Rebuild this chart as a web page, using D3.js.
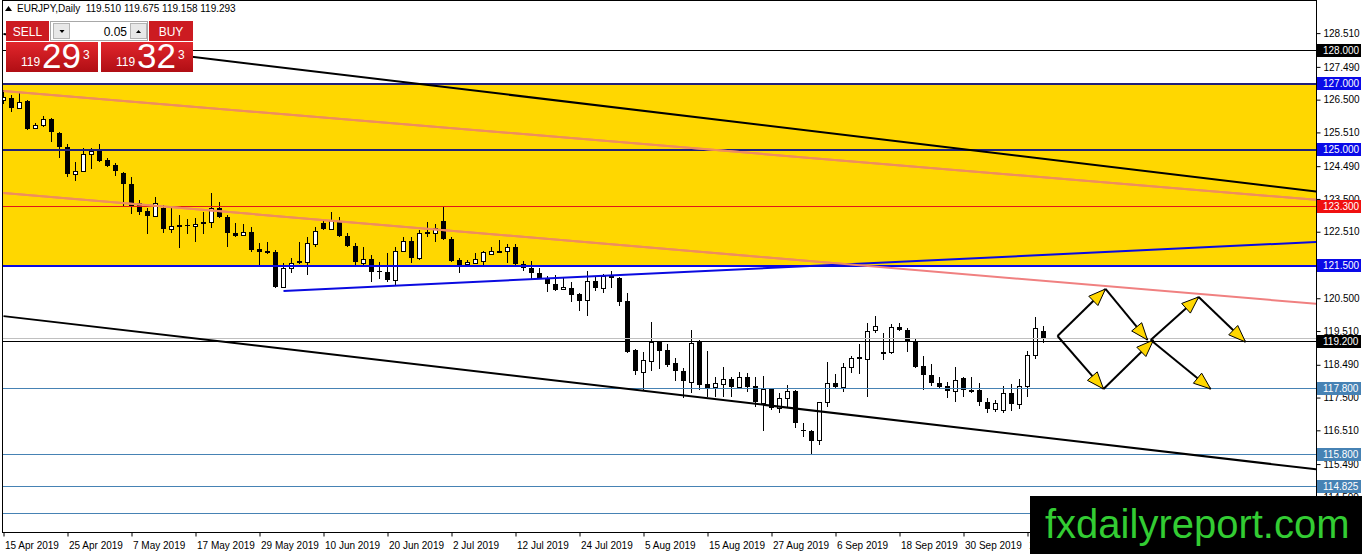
<!DOCTYPE html>
<html>
<head>
<meta charset="utf-8">
<title>EURJPY Daily</title>
<script src="https://cdnjs.cloudflare.com/ajax/libs/d3/7.8.5/d3.min.js"></script>
<style>
    body { margin: 0; background: #fff; overflow: hidden; }
    text { font-family: "Liberation Sans", Arial, sans-serif; }
    .axis text { font-size: 10px; fill: #000; }
    .axis line { stroke: #000; }
    .axis path { display: none; }
</style>
</head>
<body>
<div id="chart"></div>
<script>

// daily candles, 15 Apr 2019 .. 14 Oct 2019
var opens = [
    126.49, 126.55, 126.25, 126.46, 125.64, 125.74, 125.92, 125.49, 125.07, 124.25,
    124.35, 124.86, 125.01, 124.68, 124.53, 124.28, 123.95, 123.38, 123.14, 122.99,
    123.23, 122.59, 122.68, 122.70, 122.68, 122.76, 122.80, 123.23, 122.96, 122.47,
    122.41, 122.50, 121.99, 121.93, 121.90, 120.84, 121.41, 121.63, 121.60, 122.14,
    122.78, 122.59, 122.80, 122.38, 122.08, 121.57, 121.69, 121.33, 121.30, 121.05,
    121.93, 122.23, 121.72, 122.47, 122.47, 122.83, 122.29, 121.66, 121.54, 121.57,
    121.63, 121.84, 121.92, 121.93, 122.05, 121.54, 121.41, 121.27, 121.11, 120.93,
    120.78, 120.81, 120.63, 120.45, 121.02, 120.81, 121.17, 121.11, 120.42, 118.94,
    118.27, 118.61, 119.18, 118.94, 118.54, 118.30, 117.97, 119.18, 117.91, 117.82,
    117.91, 118.06, 117.82, 118.12, 117.85, 117.34, 117.76, 117.19, 117.49, 117.70,
    116.52, 116.49, 116.22, 117.37, 117.94, 117.82, 118.42, 118.69, 118.67, 119.54,
    118.86, 118.88, 119.63, 119.54, 119.18, 118.45, 118.18, 117.94, 117.85, 117.70,
    118.09, 117.73, 117.73, 117.37, 117.16, 117.13, 117.64, 117.31, 117.85, 118.79,
    119.510
];
var highs = [
    126.79, 126.64, 126.70, 126.49, 125.80, 126.01, 125.95, 125.52, 125.16, 124.62,
    125.04, 125.04, 125.16, 124.74, 124.59, 124.30, 124.16, 123.47, 123.23, 123.56,
    123.32, 123.23, 123.02, 122.90, 122.93, 123.11, 123.68, 123.41, 123.02, 122.78,
    122.75, 122.65, 122.17, 122.20, 121.96, 121.57, 121.72, 122.20, 122.35, 122.65,
    122.84, 123.11, 122.96, 122.47, 122.17, 122.05, 121.81, 121.60, 121.87, 122.05,
    122.35, 122.35, 122.56, 122.80, 122.75, 123.26, 122.35, 121.72, 121.66, 121.87,
    121.93, 122.05, 122.26, 122.14, 122.14, 121.63, 121.63, 121.41, 121.17, 121.20,
    121.11, 120.99, 120.66, 121.33, 121.14, 121.23, 121.33, 121.14, 120.66, 118.97,
    118.88, 119.78, 119.21, 119.12, 118.70, 118.39, 119.54, 119.24, 118.91, 118.12,
    118.42, 118.12, 118.27, 118.24, 118.12, 118.15, 117.78, 117.64, 117.88, 117.73,
    116.73, 116.52, 117.37, 118.58, 118.21, 118.54, 118.76, 119.12, 119.75, 119.96,
    119.45, 119.72, 119.75, 119.60, 119.27, 118.76, 118.51, 118.12, 117.97, 118.42,
    118.12, 118.12, 117.94, 117.49, 117.43, 117.85, 117.91, 118.06, 118.91, 119.93,
    119.675
];
var lows = [
    126.37, 126.13, 126.22, 125.58, 125.61, 125.67, 125.22, 124.74, 124.16, 124.04,
    124.30, 124.41, 124.62, 124.47, 124.19, 123.29, 123.05, 123.02, 122.44, 122.96,
    122.47, 122.47, 122.02, 122.44, 122.20, 122.44, 122.62, 122.93, 122.05, 122.35,
    122.38, 121.90, 121.51, 121.84, 120.81, 120.81, 121.27, 121.54, 121.20, 122.05,
    122.56, 122.56, 122.35, 122.05, 121.51, 121.51, 120.99, 121.08, 120.99, 120.90,
    121.90, 121.57, 121.66, 122.35, 122.20, 122.26, 121.60, 121.27, 121.51, 121.54,
    121.51, 121.81, 121.87, 121.57, 121.51, 121.33, 121.08, 121.08, 120.69, 120.72,
    120.75, 120.40, 120.12, 119.96, 120.72, 120.66, 120.81, 120.28, 118.85, 118.18,
    117.73, 118.30, 118.36, 118.42, 118.00, 117.49, 117.64, 117.73, 117.52, 117.52,
    117.52, 117.52, 117.82, 117.67, 117.22, 116.49, 117.12, 117.03, 117.22, 116.58,
    116.31, 115.80, 116.07, 117.22, 117.76, 117.67, 118.24, 118.21, 117.52, 119.45,
    118.64, 118.82, 119.51, 118.88, 118.39, 117.73, 117.85, 117.79, 117.49, 117.37,
    117.52, 117.64, 117.25, 117.03, 117.06, 117.03, 117.09, 117.16, 117.52, 118.67,
    119.158
];
var closes = [
    126.58, 126.25, 126.43, 125.61, 125.74, 125.92, 125.52, 125.07, 124.25, 124.35,
    124.86, 124.95, 124.65, 124.50, 124.35, 123.95, 123.29, 123.11, 122.99, 123.38,
    122.59, 122.68, 122.70, 122.68, 122.75, 122.80, 123.23, 122.96, 122.47, 122.38,
    122.50, 121.96, 121.90, 121.87, 120.84, 121.41, 121.57, 121.57, 122.17, 122.53,
    122.59, 122.87, 122.38, 122.08, 121.60, 121.69, 121.30, 121.30, 121.05, 121.93,
    122.23, 121.72, 122.47, 122.50, 122.62, 122.29, 121.63, 121.51, 121.60, 121.69,
    121.90, 121.93, 121.94, 122.05, 121.54, 121.41, 121.27, 121.11, 120.93, 120.75,
    120.84, 120.60, 120.42, 121.02, 120.81, 121.17, 121.11, 120.40, 118.88, 118.30,
    118.64, 119.18, 118.91, 118.48, 118.30, 118.00, 119.15, 117.88, 117.79, 117.94,
    118.06, 117.82, 118.12, 117.82, 117.37, 117.76, 117.19, 117.49, 117.70, 116.73,
    116.49, 116.19, 117.37, 117.94, 117.82, 118.42, 118.70, 118.72, 119.51, 119.66,
    118.88, 119.63, 119.54, 119.18, 118.42, 118.18, 117.94, 117.82, 117.70, 118.03,
    117.73, 117.74, 117.37, 117.16, 117.34, 117.64, 117.31, 117.85, 118.79, 119.60,
    119.293
];

// time axis labels (every 8th bar)
var dateBars = [0, 8, 16, 24, 32, 40, 48, 56, 64, 72, 80, 88, 96, 104, 112, 120, 128];
var dateLabels = ["15 Apr 2019", "25 Apr 2019", "7 May 2019", "17 May 2019", "29 May 2019",
    "10 Jun 2019", "20 Jun 2019", "2 Jul 2019", "12 Jul 2019", "24 Jul 2019", "5 Aug 2019",
    "15 Aug 2019", "27 Aug 2019", "6 Sep 2019", "18 Sep 2019", "30 Sep 2019", "10 Oct 2019"];

// price scale ticks
var priceTicks = [128.510, 127.490, 126.500, 125.510, 124.490, 123.500, 122.510, 121.500,
    120.500, 119.510, 118.490, 117.500, 116.510, 115.490, 114.500];

// horizontal levels
var levelPrices = [128.000, 127.000, 125.000, 123.300, 121.500, 119.200, 117.800, 115.800, 114.825, 114.000];
var levelKinds  = ["black", "navy", "navy", "red", "blue", "black", "steel", "steel", "steel", "steel"];

// shaded zone
var zonePrices = [127.000, 121.500];

// trend lines [bar, price] -> [bar, price]
var trendKinds = ["black", "pink", "pink", "blue", "black"];
var trendFrom  = [[0, 128.48], [0, 126.76], [0, 123.68], [35, 120.72], [0, 119.96]];
var trendTo    = [[164.2, 123.72], [164.2, 123.47], [164.2, 120.33], [164.2, 122.20], [164.2, 115.33]];

// projected path arrows [bar, price] -> [bar, price]
var arrowFrom = [[131.75, 119.36], [131.75, 119.36], [137.75, 120.78], [137.5, 117.76],
    [143.4, 119.24], [143.4, 119.24], [149.4, 120.54]];
var arrowTo   = [[137.75, 120.78], [137.5, 117.76], [143.0, 119.24], [143.75, 119.24],
    [149.4, 120.54], [150.9, 117.76], [155.25, 119.18]];

var bidPrice = 119.293;
var symbolTitle = "EURJPY,Daily";
var lastQuote = [119.510, 119.675, 119.158, 119.293];
var lotSize = "0.05";
var sellQuote = ["119", "29", "3"];
var buyQuote = ["119", "32", "3"];
var watermark = "fxdailyreport.com";


var colors = {
    black: "#000000", navy: "#20207a", red: "#e01818", blue: "#0a0ae0",
    steel: "#4682b4", pink: "#f08080", zone: "#ffd700", bid: "#c0c0c0"
};
var boxColors = {
    black: "#000000", navy: "#0a0ae8", red: "#f01010", blue: "#0a0ae8", steel: "#4682b4"
};


CandleChart = function(_parentElement){
    this.parentElement = _parentElement;

    this.initVis();
}


/*
 * Initialize visualization (static content: SVG area, scales, frame)
 */

CandleChart.prototype.initVis = function(){
    var vis = this;

    vis.width = 1362;
    vis.height = 554;

    vis.plot = { left: 2, right: 1316, top: 0, bottom: 532 };

    vis.svg = d3.select("#" + vis.parentElement).append("svg")
        .attr("width", vis.width)
        .attr("height", vis.height);

    vis.x = d3.scaleLinear().domain([0, 130]).range([3.5, 1043.5]);
    vis.y = d3.scaleLinear().domain([114.825, 128]).range([486.1, 50]);

    var defs = vis.svg.append("defs");
    defs.append("clipPath").attr("id", "plot-clip")
        .append("rect")
        .attr("x", vis.plot.left).attr("y", vis.plot.top)
        .attr("width", vis.plot.right - vis.plot.left)
        .attr("height", vis.plot.bottom - vis.plot.top);
    defs.append("clipPath").attr("id", "zone-clip")
        .append("rect")
        .attr("x", vis.plot.left).attr("y", vis.y(zonePrices[0]))
        .attr("width", vis.plot.right - vis.plot.left)
        .attr("height", vis.y(zonePrices[1]) - vis.y(zonePrices[0]));

    var grad = defs.append("linearGradient").attr("id", "quote-grad")
        .attr("x1", 0).attr("y1", 0).attr("x2", 0).attr("y2", 1);
    grad.append("stop").attr("offset", "0%").attr("stop-color", "#e2262c");
    grad.append("stop").attr("offset", "100%").attr("stop-color", "#b00e14");

    vis.wrangleData();
}


/*
 * Data wrangling
 */

CandleChart.prototype.wrangleData = function(){
    var vis = this;

    vis.candles = opens.map(function(o, i) {
        return { i: i, o: o, h: highs[i], l: lows[i], c: closes[i] };
    });

    vis.levels = levelPrices.map(function(p, i) { return { price: p, kind: levelKinds[i] }; });

    vis.trends = trendKinds.map(function(k, i) {
        return { kind: k, from: trendFrom[i], to: trendTo[i] };
    });

    vis.arrows = arrowFrom.map(function(f, i) { return { from: f, to: arrowTo[i] }; });

    vis.updateVis();
}


/*
 * The drawing function
 */

CandleChart.prototype.updateVis = function(){
    var vis = this;
    var x = vis.x, y = vis.y;

    var plotArea = vis.svg.append("g").attr("clip-path", "url(#plot-clip)");

    // yellow zone
    plotArea.append("rect")
        .attr("x", vis.plot.left)
        .attr("y", y(zonePrices[0]))
        .attr("width", vis.plot.right - vis.plot.left)
        .attr("height", y(zonePrices[1]) - y(zonePrices[0]))
        .attr("fill", colors.zone);

    // candles
    var candle = plotArea.append("g").attr("shape-rendering", "crispEdges")
        .selectAll("g.candle")
        .data(vis.candles)
        .enter().append("g").attr("class", "candle");

    candle.append("line")
        .attr("x1", function(d) { return x(d.i); })
        .attr("x2", function(d) { return x(d.i); })
        .attr("y1", function(d) { return Math.round(y(d.h)); })
        .attr("y2", function(d) { return Math.round(y(d.l)); })
        .attr("stroke", "#000");

    candle.append("rect")
        .attr("x", function(d) { return d.c >= d.o ? x(d.i) - 2 : x(d.i) - 2.5; })
        .attr("y", function(d) {
            var top = Math.round(y(Math.max(d.o, d.c)));
            return d.c >= d.o ? top + 0.5 : top;
        })
        .attr("width", function(d) { return d.c >= d.o ? 4 : 5; })
        .attr("height", function(d) {
            var h = Math.round(y(Math.min(d.o, d.c))) - Math.round(y(Math.max(d.o, d.c)));
            return Math.max(h, 1);
        })
        .attr("fill", function(d) { return d.c >= d.o ? "#fff" : "#000"; })
        .attr("stroke", function(d) { return d.c >= d.o ? "#000" : "none"; });

    // horizontal levels
    plotArea.append("g").attr("shape-rendering", "crispEdges")
        .selectAll("line")
        .data(vis.levels)
        .enter().append("line")
        .attr("x1", vis.plot.left)
        .attr("x2", vis.plot.right)
        .attr("y1", function(d) { return Math.round(y(d.price)) + 0.5; })
        .attr("y2", function(d) { return Math.round(y(d.price)) + 0.5; })
        .attr("stroke", function(d) { return colors[d.kind]; })
        .attr("stroke-width", function(d) { return (d.kind === "navy" || d.kind === "blue") ? 2 : 1; });

    // bid line
    plotArea.append("line")
        .attr("x1", vis.plot.left).attr("x2", vis.plot.right)
        .attr("y1", Math.round(y(bidPrice)) + 0.5).attr("y2", Math.round(y(bidPrice)) + 0.5)
        .attr("stroke", colors.bid)
        .attr("shape-rendering", "crispEdges");

    // trend lines
    plotArea.append("g").selectAll("line")
        .data(vis.trends)
        .enter().append("line")
        .attr("x1", function(d) { return x(d.from[0]); })
        .attr("y1", function(d) { return y(d.from[1]); })
        .attr("x2", function(d) { return x(d.to[0]); })
        .attr("y2", function(d) { return y(d.to[1]); })
        .attr("stroke", function(d) { return colors[d.kind]; })
        .attr("stroke-width", 2);

    // pink lines look more orange over the zone
    plotArea.append("g").attr("clip-path", "url(#zone-clip)")
        .selectAll("line")
        .data(vis.trends.filter(function(d) { return d.kind === "pink"; }))
        .enter().append("line")
        .attr("x1", function(d) { return x(d.from[0]); })
        .attr("y1", function(d) { return y(d.from[1]); })
        .attr("x2", function(d) { return x(d.to[0]); })
        .attr("y2", function(d) { return y(d.to[1]); })
        .attr("stroke", "#ee8e5c")
        .attr("stroke-width", 2);

    // projection arrows
    var arrow = plotArea.append("g").selectAll("g")
        .data(vis.arrows)
        .enter().append("g");

    arrow.append("line")
        .attr("x1", function(d) { return x(d.from[0]); })
        .attr("y1", function(d) { return y(d.from[1]); })
        .attr("x2", function(d) { return x(d.to[0]); })
        .attr("y2", function(d) { return y(d.to[1]); })
        .attr("stroke", "#000")
        .attr("stroke-width", 2);

    arrow.append("polygon")
        .attr("points", function(d) {
            var x0 = x(d.from[0]), y0 = y(d.from[1]), x1 = x(d.to[0]), y1 = y(d.to[1]);
            var len = Math.sqrt((x1 - x0) * (x1 - x0) + (y1 - y0) * (y1 - y0));
            var ux = (x1 - x0) / len, uy = (y1 - y0) / len;
            var L = 17, W = 6.5;
            var bx = x1 - ux * L, by = y1 - uy * L;
            return [[x1, y1], [bx - uy * W, by + ux * W], [bx + uy * W, by - ux * W]]
                .map(function(p) { return p.join(","); }).join(" ");
        })
        .attr("fill", "#ffd700")
        .attr("stroke", "#000")
        .attr("stroke-width", 1);

    // frame
    vis.svg.append("rect")
        .attr("x", vis.plot.left + 0.5)
        .attr("y", vis.plot.top + 0.5)
        .attr("width", vis.plot.right - vis.plot.left)
        .attr("height", vis.plot.bottom - vis.plot.top)
        .attr("fill", "none")
        .attr("stroke", "#000")
        .attr("shape-rendering", "crispEdges");

    // price axis
    vis.svg.append("g")
        .attr("class", "axis")
        .attr("transform", "translate(" + (vis.plot.right + 0.5) + ",0)")
        .call(d3.axisRight(y).tickValues(priceTicks).tickSize(4).tickPadding(3).tickFormat(d3.format(".3f")));

    // time axis
    var xAxis = vis.svg.append("g")
        .attr("class", "axis")
        .attr("transform", "translate(0," + (vis.plot.bottom + 0.5) + ")")
        .call(d3.axisBottom(x).tickValues(dateBars).tickSize(4).tickPadding(5)
            .tickFormat(function(d, i) { return dateLabels[i]; }));
    xAxis.selectAll("text").attr("text-anchor", "start").attr("x", 1);

    // level price boxes
    var box = vis.svg.append("g").selectAll("g")
        .data(vis.levels)
        .enter().append("g")
        .attr("transform", function(d) { return "translate(" + (vis.plot.right + 1) + "," + Math.round(y(d.price)) + ")"; });

    box.append("rect")
        .attr("x", 0).attr("y", -6)
        .attr("width", 44).attr("height", 13)
        .attr("fill", function(d) { return boxColors[d.kind]; });

    box.append("text")
        .attr("x", 6).attr("y", 4)
        .attr("font-size", "10px")
        .attr("fill", "#fff")
        .text(function(d) { return d3.format(".3f")(d.price); });

    // title line
    vis.svg.append("path")
        .attr("d", "M5,11 L8.5,6 L12,11 Z")
        .attr("fill", "#000");
    vis.svg.append("text")
        .attr("x", 17).attr("y", 12)
        .attr("font-size", "10px")
        .style("white-space", "pre")
        .text(symbolTitle + "  " + lastQuote.map(d3.format(".3f")).join(" "));

    // one-click trading panel
    var panel = vis.svg.append("g");

    panel.append("rect").attr("x", 6).attr("y", 20).attr("width", 187).attr("height", 52).attr("fill", "#fff");

    panel.append("rect").attr("x", 6).attr("y", 21).attr("width", 43).attr("height", 20).attr("fill", "#cc1b21");
    panel.append("text").attr("x", 27.5).attr("y", 36).attr("text-anchor", "middle")
        .attr("font-size", "12px").attr("fill", "#fff").text("SELL");

    panel.append("rect").attr("x", 149).attr("y", 21).attr("width", 44).attr("height", 20).attr("fill", "#cc1b21");
    panel.append("text").attr("x", 171).attr("y", 36).attr("text-anchor", "middle")
        .attr("font-size", "12px").attr("fill", "#fff").text("BUY");

    panel.append("rect").attr("x", 50.5).attr("y", 21.5).attr("width", 97).attr("height", 19)
        .attr("fill", "#fff").attr("stroke", "#a8a8a8");
    panel.append("rect").attr("x", 53.5).attr("y", 23.5).attr("width", 16).attr("height", 15)
        .attr("fill", "#e8e8e8").attr("stroke", "#b4b4b4");
    panel.append("rect").attr("x", 130.5).attr("y", 23.5).attr("width", 16).attr("height", 15)
        .attr("fill", "#e8e8e8").attr("stroke", "#b4b4b4");
    panel.append("path").attr("d", "M59.5,30 L64.5,30 L62,33 Z").attr("fill", "#000");
    panel.append("path").attr("d", "M136,33 L141,33 L138.5,30 Z").attr("fill", "#000");
    panel.append("text").attr("x", 127).attr("y", 36).attr("text-anchor", "end")
        .attr("font-size", "12px").attr("fill", "#000").text(lotSize);

    [[6, sellQuote], [101, buyQuote]].forEach(function(q) {
        var x0 = q[0];
        panel.append("rect").attr("x", x0).attr("y", 42).attr("width", 92).attr("height", 30)
            .attr("fill", "url(#quote-grad)");
        panel.append("text").attr("x", x0 + 15).attr("y", 66)
            .attr("font-size", "12px").attr("fill", "#fff").text(q[1][0]);
        panel.append("text").attr("x", x0 + 36).attr("y", 68)
            .attr("font-size", "35px").attr("fill", "#fff").text(q[1][1]);
        panel.append("text").attr("x", x0 + 77).attr("y", 59)
            .attr("font-size", "12px").attr("fill", "#fff").text(q[1][2]);
    });

    // watermark
    vis.svg.append("rect")
        .attr("x", 1030).attr("y", 496)
        .attr("width", 332).attr("height", 58)
        .attr("fill", "#000");
    vis.svg.append("text")
        .attr("x", 1045).attr("y", 538)
        .attr("font-size", "40px")
        .attr("fill", "#33cc33")
        .text(watermark);
}


var chart = new CandleChart("chart");

</script>
</body>
</html>
